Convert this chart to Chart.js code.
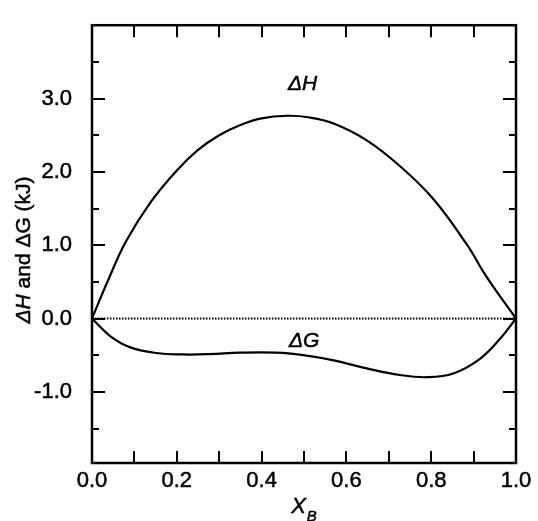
<!DOCTYPE html>
<html>
<head>
<meta charset="utf-8">
<script src="https://cdn.jsdelivr.net/npm/chart.js@4.4.1/dist/chart.umd.min.js"></script>
<style>
  html, body { margin: 0; padding: 0; background: #fff; }
  canvas { display: block; }
</style>
</head>
<body>
<canvas id="chart" width="538" height="521"></canvas>
<script>
// enthalpy of mixing
const xH = [0, 0.04, 0.08, 0.14, 0.2, 0.25, 0.3, 0.35, 0.4, 0.46, 0.51, 0.57, 0.648, 0.726, 0.805, 0.884, 0.931, 1.0];
const dH = [0, 0.55, 1.05, 1.6, 2.02, 2.3, 2.5, 2.64, 2.73, 2.765, 2.745, 2.66, 2.43, 2.08, 1.63, 1.01, 0.565, 0];

// Gibbs energy of mixing
const xG = [0, 0.042, 0.089, 0.152, 0.215, 0.278, 0.349, 0.435, 0.498, 0.57, 0.648, 0.726, 0.789, 0.852, 0.915, 0.962, 1.0];
const dG = [0, -0.235, -0.39, -0.47, -0.49, -0.485, -0.465, -0.465, -0.50, -0.57, -0.68, -0.77, -0.80, -0.75, -0.55, -0.28, 0];

// zero reference line
const xZero = [0, 1];
const dZero = [0, 0];

const xTicks = [0, 0.1, 0.2, 0.3, 0.4, 0.5, 0.6, 0.7, 0.8, 0.9, 1.0];
const xTickLabels = [0, 0.2, 0.4, 0.6, 0.8, 1.0];
const yTicks = [-1.5, -1, -0.5, 0, 0.5, 1, 1.5, 2, 2.5, 3, 3.5];
const yTickLabels = [-1, 0, 1, 2, 3];

const FONT = '"Liberation Sans", Arial, sans-serif';

function toPoints(xs, ys) {
  return xs.map((x, i) => ({ x: x, y: ys[i] }));
}

const near = (a, b) => Math.abs(a - b) < 1e-6;

// text with a thin outline so it reads as heavy as the scanned original
function boldText(ctx, s, x, y) {
  ctx.fillText(s, x, y);
  ctx.strokeText(s, x, y);
}

// frame, inward ticks on all four sides, axis titles and curve labels
const decorations = {
  id: "decorations",
  afterDraw(chart) {
    const { ctx, chartArea: a, scales } = chart;
    const sx = scales.x, sy = scales.y;
    ctx.save();
    ctx.strokeStyle = "#000";
    ctx.lineCap = "butt";

    ctx.lineWidth = 2;
    ctx.beginPath();
    xTicks.forEach((v) => {
      if (v <= 0 || v >= 1) return;
      const px = Math.round(sx.getPixelForValue(v));
      ctx.moveTo(px, a.bottom); ctx.lineTo(px, a.bottom - 12);
      ctx.moveTo(px, a.top); ctx.lineTo(px, a.top + 12);
    });
    yTicks.forEach((v) => {
      const py = Math.round(sy.getPixelForValue(v));
      const len = Number.isInteger(v) ? 13 : 7;
      ctx.moveTo(a.left, py); ctx.lineTo(a.left + len, py);
      ctx.moveTo(a.right, py); ctx.lineTo(a.right - len, py);
    });
    ctx.stroke();

    ctx.lineWidth = 2.5;
    ctx.strokeRect(a.left, a.top, a.right - a.left, a.bottom - a.top);

    ctx.fillStyle = "#000";
    ctx.lineWidth = 0.5;
    ctx.textBaseline = "alphabetic";

    // curve labels
    ctx.font = "italic 21px " + FONT;
    ctx.textAlign = "left";
    boldText(ctx, "\u0394H", 288, 90);
    boldText(ctx, "\u0394G", 289, 347);

    // x title: X with subscript B
    ctx.font = "italic 22px " + FONT;
    const wX = ctx.measureText("X").width;
    ctx.font = "italic 15px " + FONT;
    const wB = ctx.measureText("B").width;
    const cx = (a.left + a.right) / 2;
    let x0 = cx - (wX + wB + 1) / 2;
    ctx.font = "italic 22px " + FONT;
    boldText(ctx, "X", x0, 513);
    ctx.font = "italic 15px " + FONT;
    boldText(ctx, "B", x0 + wX + 1, 521);

    // y title, rotated
    ctx.translate(30, 250);
    ctx.rotate(-Math.PI / 2);
    const parts = [
      ["\u0394H", "italic 21px " + FONT],
      [" and \u0394G (kJ)", "21px " + FONT],
    ];
    let total = 0;
    parts.forEach((p) => { ctx.font = p[1]; total += ctx.measureText(p[0]).width; });
    let tx = -total / 2;
    parts.forEach((p) => {
      ctx.font = p[1];
      boldText(ctx, p[0], tx, 0);
      tx += ctx.measureText(p[0]).width;
    });
    ctx.restore();
  },
};

new Chart(document.getElementById("chart"), {
  type: "scatter",
  data: {
    datasets: [
      {
        label: "\u0394H",
        data: toPoints(xH, dH),
        showLine: true,
        borderColor: "#000",
        borderWidth: 2.2,
        pointRadius: 0,
        tension: 0.4,
      },
      {
        label: "\u0394G",
        data: toPoints(xG, dG),
        showLine: true,
        borderColor: "#000",
        borderWidth: 2.2,
        pointRadius: 0,
        tension: 0.4,
      },
      {
        label: "zero",
        data: toPoints(xZero, dZero),
        showLine: true,
        borderColor: "#000",
        borderWidth: 2,
        borderDash: [1.5, 1.5],
        pointRadius: 0,
      },
    ],
  },
  options: {
    responsive: false,
    animation: false,
    devicePixelRatio: 1,
    layout: { padding: { top: 15, right: 22, left: 0, bottom: 0 } },
    plugins: { legend: { display: false }, tooltip: { enabled: false } },
    scales: {
      x: {
        type: "linear",
        min: 0,
        max: 1,
        grid: { display: false },
        border: { display: false },
        afterBuildTicks: (s) => { s.ticks = xTicks.map((v) => ({ value: v })); },
        afterFit: (s) => { s.height = 58; },
        ticks: {
          autoSkip: false,
          maxRotation: 0,
          padding: -3,
          color: "#000",
          textStrokeColor: "#000",
          textStrokeWidth: 0.5,
          font: { family: FONT, size: 22 },
          callback: (v) => (xTickLabels.some((t) => near(t, v)) ? v.toFixed(1) : ""),
        },
      },
      y: {
        type: "linear",
        min: -1.97,
        max: 4,
        grid: { display: false },
        border: { display: false },
        afterBuildTicks: (s) => { s.ticks = yTicks.map((v) => ({ value: v })); },
        afterFit: (s) => { s.width = 92; },
        ticks: {
          autoSkip: false,
          padding: 12,
          color: "#000",
          textStrokeColor: "#000",
          textStrokeWidth: 0.5,
          font: { family: FONT, size: 22 },
          callback: (v) => (yTickLabels.some((t) => near(t, v)) ? v.toFixed(1) : ""),
        },
      },
    },
  },
  plugins: [decorations],
});
</script>
</body>
</html>
